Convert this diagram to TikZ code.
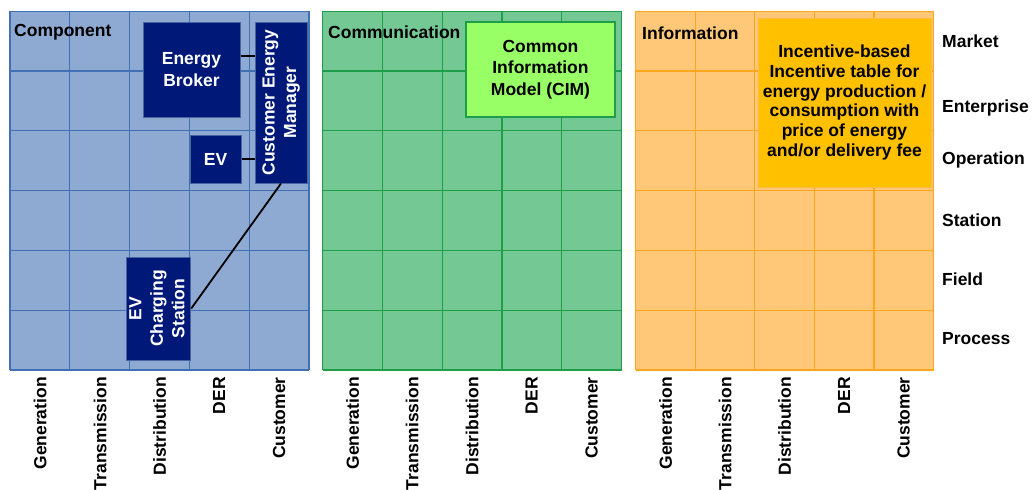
\documentclass[tikz,border=0pt]{standalone}
\usepackage{fontspec}
\setmainfont{Liberation Sans}
\definecolor{compfill}{RGB}{143,170,210}
\definecolor{compline}{RGB}{65,113,180}
\definecolor{navybox}{RGB}{0,24,120}
\definecolor{navyline}{RGB}{70,100,160}
\definecolor{commfill}{RGB}{116,200,148}
\definecolor{commline}{RGB}{30,158,72}
\definecolor{cimfill}{RGB}{153,255,102}
\definecolor{infofill}{RGB}{255,200,120}
\definecolor{infoline}{RGB}{255,165,30}
\definecolor{infobox}{RGB}{255,192,0}
\definecolor{infoboxline}{RGB}{255,185,70}
\begin{document}
\begin{tikzpicture}[x=1pt, y=-1pt, font=\bfseries\fontsize{17.5}{21.5}\selectfont]
    \useasboundingbox (0,0) rectangle (1034,490);

    \tikzstyle{cbox} = [rectangle, draw=navyline, line width=1pt, fill=navybox, text=white, inner sep = 0pt, align=center]
    \tikzstyle{rowlab} = [anchor=west, inner sep = 0pt]
    \tikzstyle{collab} = [anchor=east, rotate=90, inner sep = 0pt]
    \tikzstyle{title} = [anchor=west, inner sep = 0pt]

    % grids
    \begin{scope}[shift={(10,370)}, x=59.8pt, y=59.8pt]
    \fill[compfill] (0,0) rectangle (5,6);
    \draw[compline, line width=1.2pt, step=1] (0,0) grid (5,6);
    \end{scope}
    \begin{scope}[shift={(322.5,370)}, x=59.8pt, y=59.8pt]
    \fill[commfill] (0,0) rectangle (5,6);
    \draw[commline, line width=1.2pt, step=1] (0,0) grid (5,6);
    \end{scope}
    \begin{scope}[shift={(635.5,370)}, x=59.6pt, y=59.8pt]
    \fill[infofill] (0,0) rectangle (5,6);
    \draw[infoline, line width=1.2pt, step=1] (0,0) grid (5,6);
    \end{scope}

    \node[title] (tcomp) at (14,32) {Component};
    \node[title] (tcomm) at (328,32) {Communication};
    \node[title] (tinfo) at (642,33) {Information};

    % component layer
    \node[cbox, minimum width=97pt, minimum height=95pt] (eb) at (191.5,69.5) {Energy\\Broker};
    \node[cbox, minimum width=52pt, minimum height=161pt] (cem) at (281,102.5) {\rotatebox{90}{\begin{tabular}[x]{@{}c@{}}Customer Energy\\ Manager\end{tabular}}};
    \node[cbox, minimum width=51pt, minimum height=48pt] (ev) at (215.5,159) {EV};
    \node[cbox, minimum width=61pt, minimum height=103pt] (ecs) at (158.5,308.5) {\rotatebox{90}{\begin{tabular}[x]{@{}c@{}}EV\\ Charging\\ Station\end{tabular}}};

    \draw[line width=1.8pt] ([yshift=13.5pt]eb.east) -- ([yshift=13.5pt]eb.east -| cem.west);
    \draw[line width=1.8pt] (ev.east) -- (ev.east -| cem.west);
    \draw[line width=1.8pt] (ecs.east) -- (cem.south);

    % communication layer
    \node[rectangle, draw=commline, line width=1.2pt, fill=cimfill, inner sep = 0pt, align=center, minimum width=149pt, minimum height=95pt] (cim) at (540.5,69.5) {Common\\Information\\Model (CIM)};

    % information layer
    \node[rectangle, draw=infoboxline, line width=1pt, fill=infobox, inner sep = 0pt, align=center, minimum width=173pt, minimum height=169pt, font=\bfseries\fontsize{17.5}{19.8}\selectfont] (inc) at (844.5,102.5) {Incentive-based\\Incentive table for\\energy production /\\consumption with\\price of energy\\and/or delivery fee};

    % zone labels
    \node[rowlab] (market) at (942,41) {Market};
    \node[rowlab] (enterprise) at (942,108) {Enterprise};
    \node[rowlab] (operation) at (942,160) {Operation};
    \node[rowlab] (station) at (942,220) {Station};
    \node[rowlab] (field) at (942,279) {Field};
    \node[rowlab] (process) at (942,339) {Process};

    % domain labels
    \node[collab] (gen1) at (40,377) {Generation};
    \node[collab] (tra1) at (100,377) {Transmission};
    \node[collab] (dis1) at (159.5,377) {Distribution};
    \node[collab] (der1) at (219,377) {DER};
    \node[collab] (cus1) at (279,377) {Customer};

    \node[collab] (gen2) at (352.5,377) {Generation};
    \node[collab] (tra2) at (412,377) {Transmission};
    \node[collab] (dis2) at (472,377) {Distribution};
    \node[collab] (der2) at (531.5,377) {DER};
    \node[collab] (cus2) at (591.5,377) {Customer};

    \node[collab] (gen3) at (665.5,377) {Generation};
    \node[collab] (tra3) at (725,377) {Transmission};
    \node[collab] (dis3) at (784.5,377) {Distribution};
    \node[collab] (der3) at (844,377) {DER};
    \node[collab] (cus3) at (903.5,377) {Customer};
\end{tikzpicture}
\end{document}
